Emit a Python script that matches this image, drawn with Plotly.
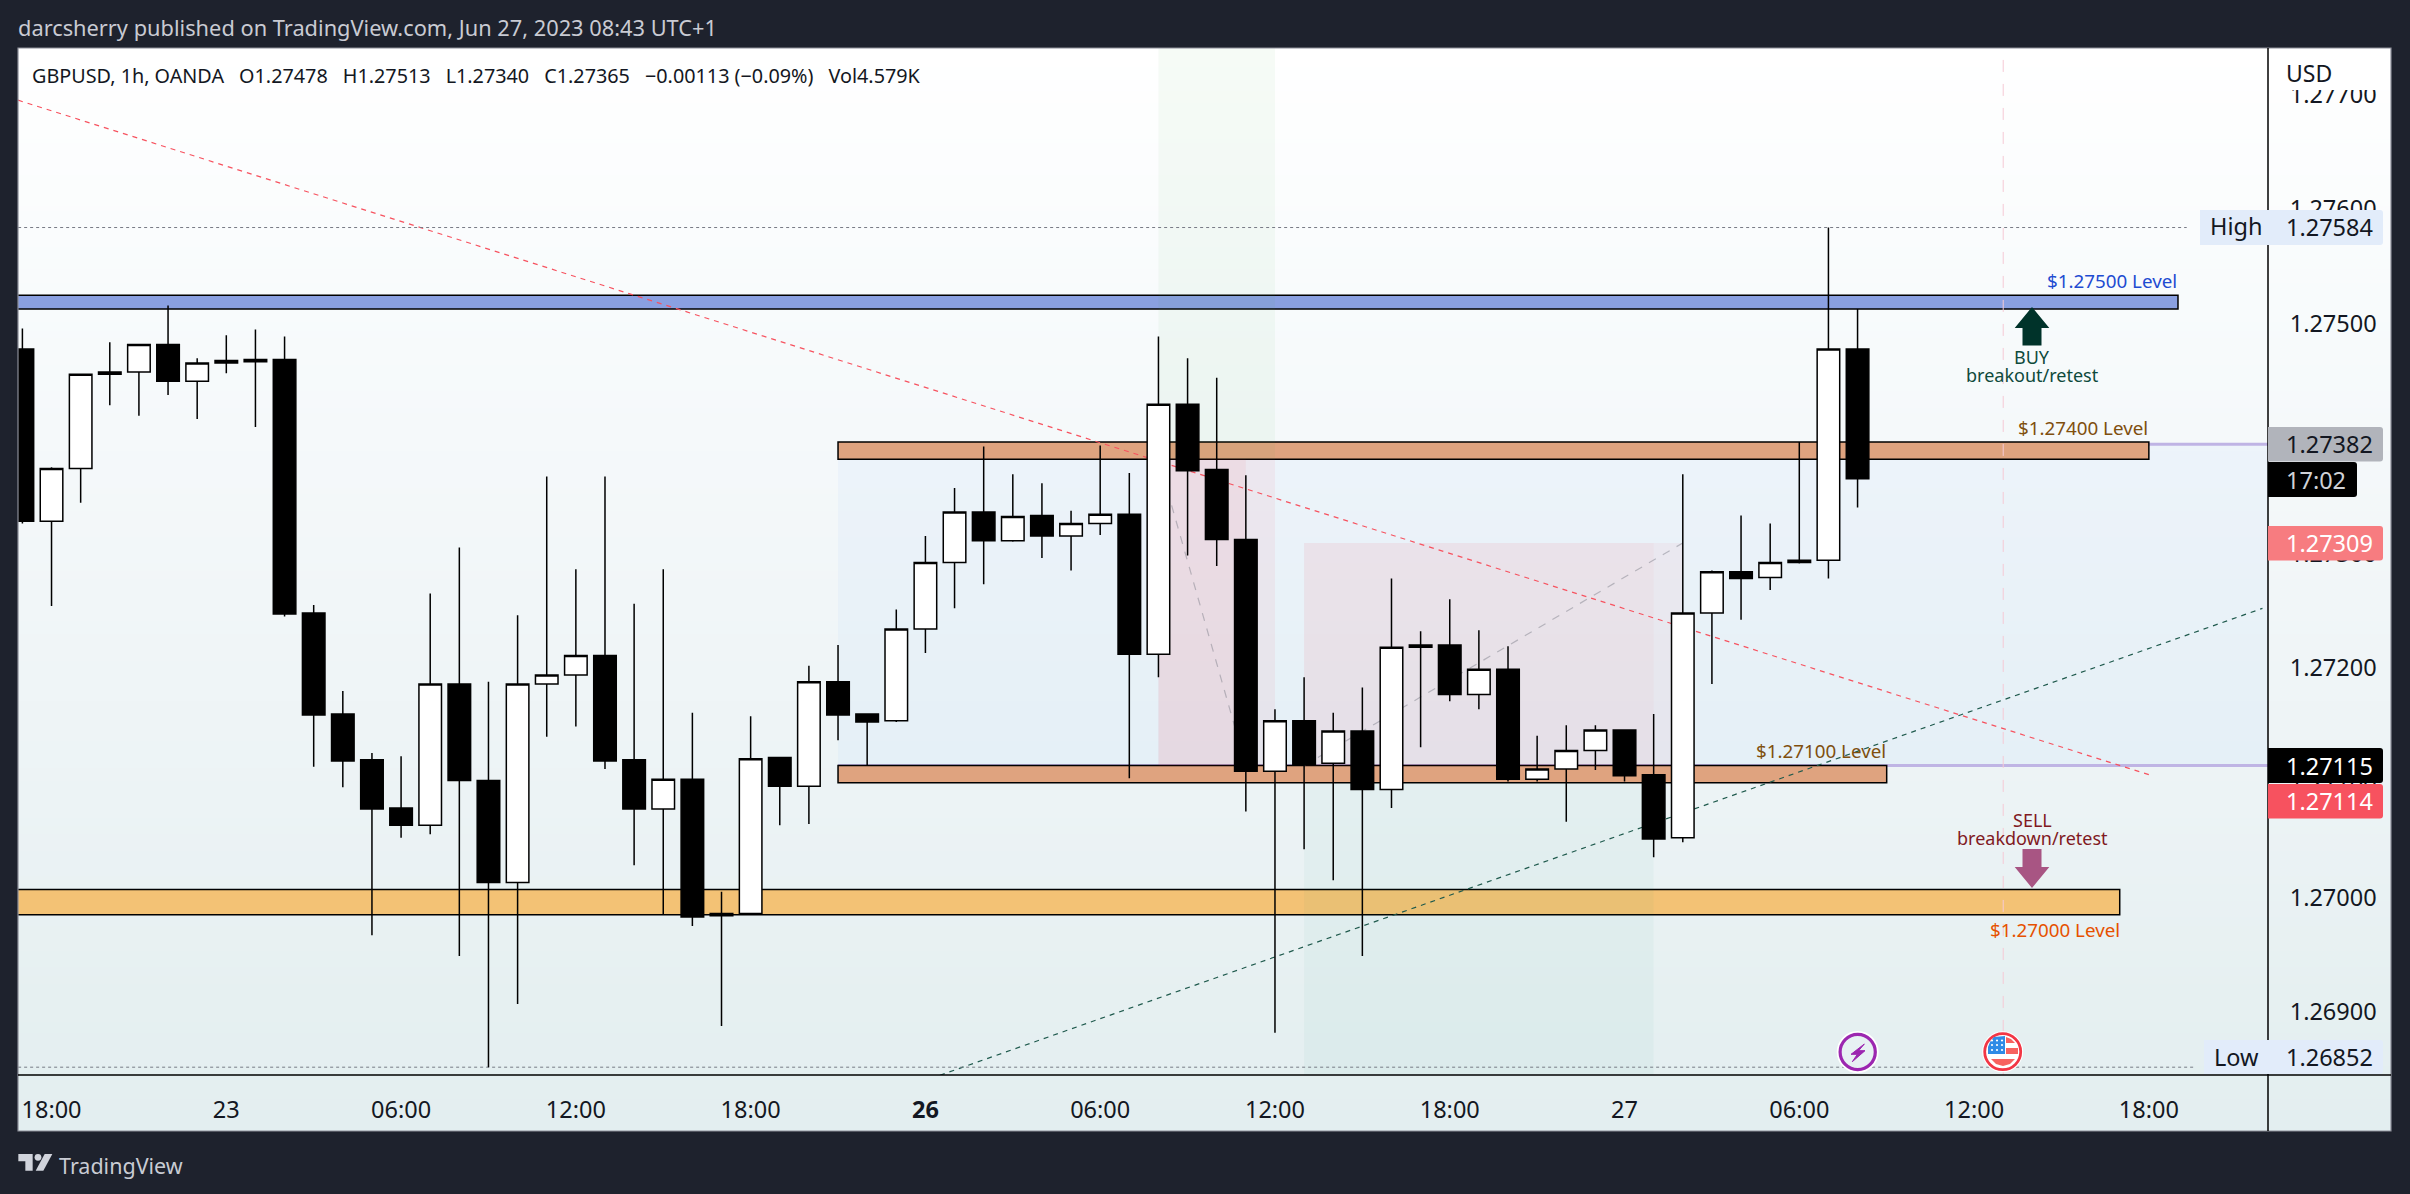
import plotly.graph_objects as go

# ---------- data ----------
bars = list(range(64))  # hourly bars, 22 Jun 17:00 ... 27 Jun 08:00 (weekend skipped)
opens = [1.27478,1.27328,1.27374,1.27456,1.27458,1.27482,1.27450,1.27468,1.27469,1.27469,
         1.27248,1.27160,1.27120,1.27078,1.27063,1.27186,1.27102,1.27013,1.27186,1.27194,
         1.27211,1.27120,1.27077,1.27103,1.26984,1.26986,1.27122,1.27097,1.27188,1.27160,
         1.27154,1.27234,1.27292,1.27336,1.27311,1.27333,1.27315,1.27326,1.27334,1.27212,
         1.27430,1.27373,1.27312,1.27110,1.27154,1.27117,1.27145,1.27094,1.27218,1.27220,
         1.27177,1.27199,1.27103,1.27112,1.27128,1.27146,1.27107,1.27052,1.27248,1.27284,
         1.27279,1.27292,1.27294,1.27478]
highs = [1.27496,1.27375,1.27456,1.27484,1.27482,1.27516,1.27470,1.27490,1.27495,1.27489,
         1.27255,1.27180,1.27126,1.27123,1.27265,1.27305,1.27188,1.27246,1.27367,1.27286,
         1.27367,1.27256,1.27286,1.27161,1.27005,1.27158,1.27122,1.27202,1.27220,1.27160,
         1.27251,1.27315,1.27357,1.27393,1.27369,1.27361,1.27337,1.27394,1.27370,1.27489,
         1.27470,1.27453,1.27368,1.27164,1.27192,1.27161,1.27183,1.27278,1.27232,1.27260,
         1.27233,1.27219,1.27141,1.27150,1.27150,1.27146,1.27160,1.27369,1.27285,1.27333,
         1.27326,1.27397,1.27584,1.27513]
lows = [1.27326,1.27254,1.27344,1.27429,1.27420,1.27438,1.27417,1.27457,1.27410,1.27245,
        1.27114,1.27096,1.26967,1.27052,1.27055,1.26949,1.26852,1.26907,1.27140,1.27149,
        1.27112,1.27028,1.26985,1.26975,1.26888,1.26985,1.27063,1.27064,1.27137,1.27115,
        1.27153,1.27213,1.27252,1.27273,1.27310,1.27296,1.27285,1.27316,1.27104,1.27192,
        1.27298,1.27289,1.27075,1.26882,1.27042,1.27015,1.26949,1.27078,1.27131,1.27171,
        1.27164,1.27101,1.27101,1.27066,1.27111,1.27101,1.27035,1.27048,1.27186,1.27242,
        1.27268,1.27291,1.27278,1.27340]
closes = [1.27328,1.27374,1.27456,1.27458,1.27482,1.27450,1.27466,1.27466,1.27467,1.27247,
          1.27159,1.27119,1.27077,1.27063,1.27186,1.27102,1.27013,1.27186,1.27194,1.27211,
          1.27119,1.27077,1.27103,1.26983,1.26986,1.27121,1.27097,1.27188,1.27159,1.27153,
          1.27234,1.27292,1.27336,1.27311,1.27332,1.27315,1.27326,1.27334,1.27212,1.27430,
          1.27372,1.27312,1.27110,1.27154,1.27116,1.27145,1.27094,1.27218,1.27220,1.27177,
          1.27199,1.27103,1.27112,1.27128,1.27146,1.27106,1.27051,1.27248,1.27284,1.27278,
          1.27292,1.27294,1.27478,1.27365]

time_tick_bars = [1, 7, 13, 19, 25, 31, 37, 43, 49, 55, 61, 67, 73]
time_tick_text = ["18:00", "23", "06:00", "12:00", "18:00", "<b>26</b>", "06:00", "12:00",
                  "18:00", "27", "06:00", "12:00", "18:00"]
price_ticks = [1.269, 1.270, 1.271, 1.272, 1.273, 1.274, 1.275, 1.276, 1.277]
price_tick_text = ["1.26900", "1.27000", "1.27100", "1.27200", "1.27300", "1.27400",
                   "1.27500", "1.27600", "1.27700"]

high_price, low_price = 1.27584, 1.26852
zone_500 = (1.27513, 1.27525)
zone_400 = (1.27382, 1.27397)
zone_100 = (1.27100, 1.27115)
zone_000 = (1.26985, 1.27007)
range_band = (1.27115, 1.27395)
short_top_a, short_top_b = 1.27382, 1.27309
red_trend = ((-0.15, 1.27695), (73.0, 1.27107))
green_trend = ((31.5, 1.26845), (76.9, 1.27252))

# ---------- page geometry ----------
W, H = 2410, 1194
PX0, PX1, PY0, PY1 = 18, 2268, 48, 1075     # price pane
RX1, RY1 = 2391, 1131                       # whole widget
FONT = "Noto Sans"
fx = lambda x: x / W
fy = lambda y: 1 - y / H


def path(points, close=True):
    s = "M " + " L ".join(f"{fx(x):.6f},{fy(y):.6f}" for x, y in points)
    return s + (" Z" if close else "")


def round_box(x0, y0, x1, y1, r=3):
    return (f"M {fx(x0):.6f},{fy(y0):.6f} L {fx(x1-r):.6f},{fy(y0):.6f} "
            f"Q {fx(x1):.6f},{fy(y0):.6f} {fx(x1):.6f},{fy(y0+r):.6f} "
            f"L {fx(x1):.6f},{fy(y1-r):.6f} Q {fx(x1):.6f},{fy(y1):.6f} {fx(x1-r):.6f},{fy(y1):.6f} "
            f"L {fx(x0):.6f},{fy(y1):.6f} Z")


shapes, notes = [], []


def data_rect(x0, x1, y0, y1, fill, line=None, lw=1.5):
    shapes.append(dict(type="rect", xref="x2", yref="y2", x0=x0, x1=x1, y0=y0, y1=y1, layer="below",
                       fillcolor=fill, line=dict(width=lw if line else 0, color=line or fill)))


def data_line(p0, p1, color, width=1, dash="solid"):
    shapes.append(dict(type="line", xref="x2", yref="y2", x0=p0[0], y0=p0[1], x1=p1[0], y1=p1[1],
                       layer="below", line=dict(color=color, width=width, dash=dash)))


def page_path(d, fill, line=None, lw=0, layer="above"):
    shapes.append(dict(type="path", xref="paper", yref="paper", path=d, layer=layer,
                       fillcolor=fill, line=dict(color=line or fill, width=lw)))


def page_circle(cx, cy, r, fill, line=None, lw=0):
    shapes.append(dict(type="circle", xref="paper", yref="paper", x0=fx(cx-r), x1=fx(cx+r),
                       y0=fy(cy+r), y1=fy(cy-r), layer="above", fillcolor=fill,
                       line=dict(color=line or fill, width=lw)))


def page_line(x0, y0, x1, y1, color, width=1.5, layer="above"):
    shapes.append(dict(type="line", xref="paper", yref="paper", x0=fx(x0), x1=fx(x1), y0=fy(y0), y1=fy(y1),
                       layer=layer, line=dict(color=color, width=width)))


def note(x, y, text, color, size=23.5, anchor="left"):
    notes.append(dict(xref="paper", yref="paper", x=fx(x), y=fy(y), text=text, showarrow=False,
                      xanchor=anchor, yanchor="middle", borderpad=0, borderwidth=0,
                      font=dict(family=FONT, size=size, color=color)))


# ---------- drawings in chart space ----------
END = 77.09
data_rect(28, END, range_band[0], range_band[1], "rgba(170,205,255,0.10)")
data_line((28, range_band[0]), (END, range_band[0]), "#bfb4e4", 3)
data_line((73, range_band[1]), (END, range_band[1]), "#bfb4e4", 3)

data_rect(-2, 74.0, zone_500[0], zone_500[1], "#8aa0e1", "#000000")
data_rect(28, 73.0, zone_400[0], zone_400[1], "#dfa37f", "#000000")
data_rect(28, 64.0, zone_100[0], zone_100[1], "#dfa37f", "#000000")
data_rect(-2, 72.0, zone_000[0], zone_000[1], "#f3c275", "#000000")

# closed long / short position tools
data_rect(39, 43, zone_400[0], 1.2800, "rgba(76,175,80,0.05)")
data_rect(39, 43, range_band[0], short_top_a, "rgba(242,54,69,0.06)")
data_rect(39, 42, range_band[0], short_top_a, "rgba(242,54,69,0.06)")
data_rect(44, 56, 1.2600, zone_100[0], "rgba(0,150,100,0.035)")
data_rect(44, 57, range_band[0], short_top_b, "rgba(242,54,69,0.05)")
data_rect(44, 56, range_band[0], short_top_b, "rgba(242,54,69,0.03)")
data_line((39, short_top_a), (42, range_band[0]), "rgba(120,123,134,0.45)", 1.2, "8px,8px")
data_line((44, range_band[0]), (57, short_top_b), "rgba(120,123,134,0.45)", 1.2, "8px,8px")

data_line((68, 1.26970 - 0.0015), (68, 1.2790), "#f5c9d5", 1, "12px,12px")
data_line(*red_trend, "#f7525f", 1.2, "5px,5px")
data_line(*green_trend, "#1f5a4d", 1.2, "5px,5px")
data_line((-2, high_price), (74.3, high_price), "#787b86", 1, "dot")
data_line((-2, low_price), (74.6, low_price), "#787b86", 1, "dot")

# ---------- page furniture ----------
shapes.append(dict(type="rect", xref="paper", yref="paper", x0=fx(18), x1=fx(RX1), y0=fy(RY1), y1=fy(48),
                   layer="above", fillcolor="rgba(0,0,0,0)", line=dict(color="#8b8e98", width=1.2)))
page_line(PX0, PY1, RX1, PY1, "#000000")
page_line(PX1, PY0, PX1, RY1, "#000000")

# price-scale cover and labels
page_path(path([(PX1 + 1, 49), (RX1 - 1, 49), (RX1 - 1, 90), (PX1 + 1, 90)]), "#ffffff")
note(2286, 72.5, "USD", "#131722", 23)
LBL = 2286
page_path(round_box(2200, 210, 2383, 245), "#e2ecfa")
note(2210, 225.5, "High", "#131722")
note(LBL, 227.5, "1.27584", "#131722")
page_path(round_box(PX1, 427, 2383, 461.5), "#b1b4bb")
note(LBL, 444, "1.27382", "#131722")
page_path(round_box(PX1, 462, 2357, 497), "#000000")
note(LBL, 479.5, "17:02", "#cfd1d6")
page_path(round_box(PX1, 526, 2383, 560.5), "#f77c80")
note(LBL, 543, "1.27309", "#ffffff")
page_path(round_box(PX1, 748, 2383, 783), "#000000")
note(LBL, 765.5, "1.27115", "#ffffff")
page_path(round_box(PX1, 784, 2383, 818.5), "#f7525f")
note(LBL, 801, "1.27114", "#ffffff")
page_path(round_box(2204, 1040, 2383, 1074), "#e2ecfa")
note(2214, 1057, "Low", "#131722")
note(LBL, 1057, "1.26852", "#131722")

# arrows
AX = 2032
page_path(path([(AX, 307), (AX + 17.3, 328), (AX + 9.5, 328), (AX + 9.5, 345.6), (AX - 9.5, 345.6),
                (AX - 9.5, 328), (AX - 17.3, 328)]), "#00332a")
page_path(path([(AX, 888), (AX + 17.3, 867), (AX + 9.5, 867), (AX + 9.5, 849), (AX - 9.5, 849),
                (AX - 9.5, 867), (AX - 17.3, 867)]), "#a85583")
note(AX, 357, "BUY", "#0e4a3b", 18, "center")
note(AX, 375, "breakout/retest", "#0e4a3b", 18, "center")
note(AX, 819.5, "SELL", "#801922", 18, "center")
note(AX, 838, "breakdown/retest", "#801922", 18, "center")
note(2176.5, 280.5, "$1.27500 Level", "#1e4bd1", 18.8, "right")
note(2148, 427.5, "$1.27400 Level", "#7f4f0e", 18.8, "right")
note(1886, 751, "$1.27100 Level", "#7f4f0e", 18.8, "right")
note(2119.5, 929.5, "$1.27000 Level", "#e65100", 18.8, "right")

# event icons
page_circle(1857.7, 1052, 21, "#ffffff")
page_circle(1857.7, 1052, 17.6, "#e7f1f3", "#9c27b0", 3.2)
bolt = [(103, 72), (63, 103), (82, 103), (67, 125), (105, 92), (86, 92)]
page_path(path([(1830 + a / 3, 1020 + b / 3) for a, b in bolt]), "#9c27b0", "#9c27b0", 1)
page_circle(2002.7, 1051.7, 20.5, "#ffffff")
page_circle(2002.7, 1051.7, 18, "#ffffff", "#f23645", 2.8)
stripe = "#f7625f"
page_path(path([(2006, 1037), (2011, 1039), (2015, 1043), (2006, 1043)]), stripe)
page_path(path([(2006, 1048), (2018, 1048), (2018, 1054), (2006, 1054)]), stripe)
page_path(path([(1991, 1059), (2015, 1059), (2010, 1064), (2003, 1066), (1996, 1064)]), stripe)
page_path(path([(1990, 1042), (1994, 1037), (2005, 1036), (2005, 1054), (1988, 1054), (1988, 1047)]), "#2f8be6")
for sx in (1992, 1997, 2002):
    for sy in (1040.5, 1045, 1050):
        page_circle(sx, sy, 1.1, "#ffffff")

# header, legend, footer
note(18, 27.5, "darcsherry published on TradingView.com, Jun 27, 2023 08:43 UTC+1", "#c9cbd3", 21.8)
note(32, 75.5, "GBPUSD, 1h, OANDA\u2002 O1.27478\u2002 H1.27513\u2002 L1.27340\u2002 C1.27365\u2002 "
     "\u22120.00113 (\u22120.09%)\u2002 Vol4.579K", "#131722", 19.8)
note(59, 1165, "TradingView", "#c9ccd4", 21.5)
LOGO = "#d1d4dc"
logo_t = [(25, 42), (68, 42), (68, 92), (46, 92), (46, 64), (25, 64)]
logo_s = [(127, 42), (100, 92), (77, 92), (104, 42)]
page_path(path([(10 + a / 3, 1140 + b / 3) for a, b in logo_t]), LOGO)
page_path(path([(10 + a / 3, 1140 + b / 3) for a, b in logo_s]), LOGO)
page_circle(10 + 84 / 3, 1140 + 52 / 3, 3.4, LOGO)

# ---------- traces ----------
fig = go.Figure()
stops = [[0, "#e3eef0"], [0.121, "#e6f0f1"], [0.305, "#ecf3f5"], [0.49, "#f1f6f8"],
         [0.767, "#f8fbfc"], [1, "#ffffff"]]
fig.add_trace(go.Heatmap(x=[0, 1], y=[0, 1], z=[[0, 0], [1, 1]], zmin=0, zmax=1, colorscale=stops,
                         zsmooth="best", showscale=False, hoverinfo="skip", xaxis="x", yaxis="y"))
fig.add_trace(go.Candlestick(x=bars, open=opens, high=highs, low=lows, close=closes,
                             xaxis="x2", yaxis="y2", whiskerwidth=0, hoverinfo="skip",
                             increasing=dict(fillcolor="#ffffff", line=dict(color="#000000", width=1.5)),
                             decreasing=dict(fillcolor="#000000", line=dict(color="#000000", width=1.5))))

tick_font = dict(family=FONT, size=23.5, color="#131722")
fig.update_layout(
    width=W, height=H, margin=dict(l=0, r=0, t=0, b=0, pad=0), autosize=False,
    paper_bgcolor="#1e222d", plot_bgcolor="rgba(0,0,0,0)", showlegend=False,
    boxgap=0.12, boxgroupgap=0.12,
    shapes=shapes, annotations=notes,
    xaxis=dict(domain=[fx(18), fx(RX1)], range=[0, 1], visible=False, fixedrange=True),
    yaxis=dict(domain=[fy(RY1), fy(48)], range=[0, 1], visible=False, fixedrange=True),
    xaxis2=dict(domain=[fx(PX0), fx(PX1)], range=[-0.151, 77.09], anchor="y2", rangeslider=dict(visible=False),
                tickmode="array", tickvals=time_tick_bars, ticktext=time_tick_text, tickfont=tick_font,
                ticks="outside", ticklen=14, tickcolor="rgba(0,0,0,0)", showgrid=False, zeroline=False,
                showline=False, fixedrange=True),
    yaxis2=dict(domain=[fy(PY1), fy(PY0)], range=[1.268452, 1.277405], anchor="x2", side="right",
                tickmode="array", tickvals=price_ticks, ticktext=price_tick_text, tickfont=tick_font,
                ticks="outside", ticklen=16, tickcolor="rgba(0,0,0,0)", showgrid=False, zeroline=False,
                showline=False, fixedrange=True),
)

fig.write_html("out.html", config=dict(displayModeBar=False),
               post_script="document.body.style.margin='0';document.body.style.overflow='hidden';")
